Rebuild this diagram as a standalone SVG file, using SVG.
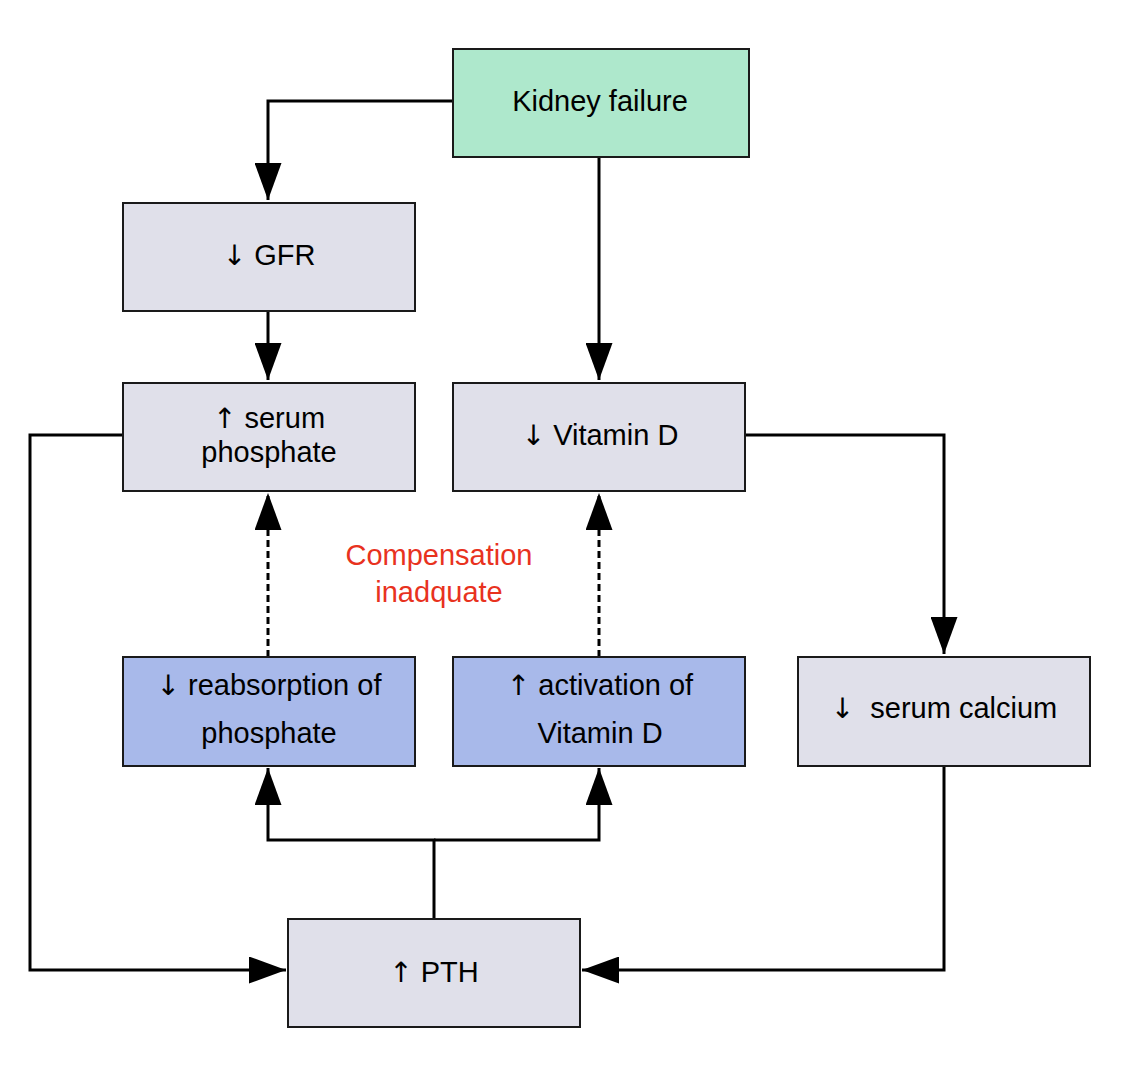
<svg xmlns="http://www.w3.org/2000/svg" width="1126" height="1090" viewBox="0 0 1126 1090">
<style>
.box{stroke:#1a1a1a;stroke-width:2}
.gray{fill:#e0e0ea}
.green{fill:#aee8cc}
.blue{fill:#a8b9ea}
text{font-family:"Liberation Sans",Arial,"DejaVu Sans",sans-serif;font-size:29px;fill:#000;text-anchor:middle}
.ar{font-family:"DejaVu Sans",sans-serif;font-size:28px}
.red{fill:#e8321e}
.c{fill:none;stroke:#000;stroke-width:3}
.d{stroke-dasharray:7,4}
</style>
<defs>
<marker id="ah" viewBox="0 0 37 27" refX="37" refY="13.5" markerWidth="37" markerHeight="27" markerUnits="userSpaceOnUse" orient="auto">
<path d="M0,0 L37,13.5 L0,27 z" fill="#000"/>
</marker>
</defs>
<rect width="1126" height="1090" fill="#fff"/>
<g id="connectors">
<path class="c" d="M453,101 H268 V200" marker-end="url(#ah)"/>
<path class="c" d="M599,157 V380" marker-end="url(#ah)"/>
<path class="c" d="M268,311 V380" marker-end="url(#ah)"/>
<path class="c" d="M123,435 H30 V970 H286" marker-end="url(#ah)"/>
<path class="c" d="M745,435 H944 V654" marker-end="url(#ah)"/>
<path class="c" d="M944,766 V970 H582" marker-end="url(#ah)"/>
<path class="c" d="M434,919 V840 H268 V768" marker-end="url(#ah)"/>
<path class="c" d="M434,840 H599 V768" marker-end="url(#ah)"/>
<path class="c d" d="M268,657 V493" marker-end="url(#ah)"/>
<path class="c d" d="M599,657 V493" marker-end="url(#ah)"/>
</g>
<g id="kidney"><rect class="box green" x="453" y="49" width="296" height="108"/><text x="600" y="111">Kidney failure</text></g>
<g id="gfr"><rect class="box gray" x="123" y="203" width="292" height="108"/><text x="269" y="265"><tspan class="ar">↓</tspan> GFR</text></g>
<g id="phosphate"><rect class="box gray" x="123" y="383" width="292" height="108"/><text x="269" y="428"><tspan class="ar">↑</tspan> serum</text><text x="269" y="462">phosphate</text></g>
<g id="vitd"><rect class="box gray" x="453" y="383" width="292" height="108"/><text x="600" y="445"><tspan class="ar">↓</tspan> Vitamin D</text></g>
<g id="comp"><text class="red" x="439" y="565">Compensation</text><text class="red" x="439" y="602">inadquate</text></g>
<g id="reabs"><rect class="box blue" x="123" y="657" width="292" height="109"/><text x="269" y="695"><tspan class="ar">↓</tspan> reabsorption of</text><text x="269" y="743">phosphate</text></g>
<g id="activ"><rect class="box blue" x="453" y="657" width="292" height="109"/><text x="600" y="695"><tspan class="ar">↑</tspan> activation of</text><text x="600" y="743">Vitamin D</text></g>
<g id="calcium"><rect class="box gray" x="798" y="657" width="292" height="109"/><text x="944" y="718" xml:space="preserve"><tspan class="ar">↓</tspan>  serum calcium</text></g>
<g id="pth"><rect class="box gray" x="288" y="919" width="292" height="108"/><text x="434" y="982"><tspan class="ar">↑</tspan> PTH</text></g>
</svg>
